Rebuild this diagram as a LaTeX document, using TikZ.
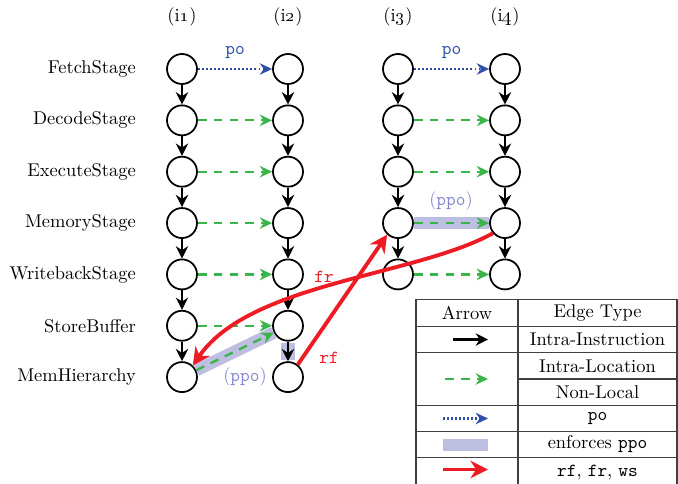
\documentclass[tikz,border=0pt]{standalone}
\usepackage{xcolor}
\definecolor{poblue}{RGB}{47,79,170}
\definecolor{locgreen}{RGB}{57,181,74}
\definecolor{comred}{RGB}{237,28,36}
\definecolor{ppoband}{RGB}{190,190,224}
\definecolor{ppotext}{RGB}{135,135,205}
\usetikzlibrary{arrows.meta}

\begin{document}
\begin{tikzpicture}[
  font=\fontsize{10.5}{12}\selectfont,
  uop/.style={draw,circle,line width=1pt,minimum size=0.6cm,inner sep=0pt},
  stagelbl/.style={anchor=east},
  intra/.style={-{Stealth[length=7pt,width=7pt]},line width=1.5pt},
  loc/.style={-{Stealth[length=7pt,width=6.5pt]},locgreen,line width=1.3pt,dash pattern=on 5pt off 4pt},
  pord/.style={-{Stealth[length=7pt,width=6.5pt]},poblue,line width=1.3pt,dash pattern=on 1.1pt off 1.2pt},
  com/.style={-{Stealth[length=10pt,width=10pt]},comred,line width=2.2pt},
  ppohl/.style={ppoband,line width=7pt},
  cell/.style={draw=black!75,line width=0.6pt,minimum height=0.526cm,inner sep=0pt}
]
  \useasboundingbox (0,0) rectangle (13.56,-9.66);

  % instruction columns
  \foreach \c/\x/\last in {1/3.64/7,2/5.76/7,3/7.96/5,4/10.10/5} {
    \node (hd\c) at (\x,-0.34) {(i\oldstylenums{\c})};
    \foreach \r in {1,...,\last}
      \node[uop] (i\c-\r) at (\x,{-1.38-1.027*(\r-1)}) {};
  }
  \foreach \r/\t in {1/FetchStage,2/DecodeStage,3/ExecuteStage,4/MemoryStage,
                     5/WritebackStage,6/StoreBuffer,7/MemHierarchy}
    \node[stagelbl] (lbl\r) at (2.84,{-1.38-1.027*(\r-1)}) {\t};

  % ppo highlights
  \draw[ppohl] (i1-7) -- (i2-6);
  \draw[ppohl] (i3-4) -- (i4-4);
  \fill[ppoband] ([xshift=-0.14cm,yshift=-0.02cm]i2-6.south) rectangle ([xshift=0.14cm,yshift=-0.36cm]i2-6.south);

  % intra-instruction
  \foreach \c/\last in {1/6,2/6,3/4,4/4}
    \foreach \r [count=\nxt from 2] in {1,...,\last}
      \draw[intra] (i\c-\r) -- (i\c-\nxt);

  % po and locations
  \draw[pord] (i1-1) -- node[above=2pt,text=poblue] (po12) {\texttt{po}} (i2-1);
  \draw[pord] (i3-1) -- node[above=2pt,text=poblue] (po34) {\texttt{po}} (i4-1);
  \foreach \r in {2,...,6}
    \draw[loc] (i1-\r) -- (i2-\r);
  \draw[loc] (i1-7) -- (i2-6);
  \foreach \r in {2,...,5}
    \draw[loc] (i3-\r) -- (i4-\r);
  \node[text=ppotext] (ppo12) at (4.9,-7.54) {(\texttt{ppo})};
  \node[text=ppotext] (ppo34) at (9.02,-4.02) {(\texttt{ppo})};

  % communication
  \draw[com] (i2-7.52) -- (i3-4.227);
  \draw[com] (i4-4.220) .. controls +(-1.56,-0.86) and +(1.14,1.66) .. (i1-7.47);
  \node[text=comred] (frlbl) at (6.48,-5.54) {\texttt{fr}};
  \node[text=comred] (rflbl) at (6.58,-7.16) {\texttt{rf}};

  % legend
  \node[cell,minimum width=2.04cm] (lgarrow) at (9.34,-6.26) {Arrow};
  \node[cell,minimum width=3.18cm] (lgtype) at (11.95,-6.26) {Edge Type};
  \node[cell,minimum width=2.04cm] (lgintra) at (9.34,-6.79) {};
  \node[cell,minimum width=3.18cm] (lgintrat) at (11.95,-6.79) {Intra-Instruction};
  \node[cell,minimum width=2.04cm,minimum height=1.052cm] (lgloc) at (9.34,-7.58) {};
  \node[cell,minimum width=3.18cm] (lgloct) at (11.95,-7.32) {Intra-Location};
  \node[cell,minimum width=3.18cm] (lgnlt) at (11.95,-7.84) {Non-Local};
  \node[cell,minimum width=2.04cm] (lgpo) at (9.34,-8.37) {};
  \node[cell,minimum width=3.18cm] (lgpot) at (11.95,-8.37) {\texttt{po}};
  \node[cell,minimum width=2.04cm] (lgppo) at (9.34,-8.89) {};
  \node[cell,minimum width=3.18cm] (lgppot) at (11.95,-8.89) {enforces \texttt{ppo}};
  \node[cell,minimum width=2.04cm,minimum height=0.6cm] (lgcom) at (9.34,-9.45) {};
  \node[cell,minimum width=3.18cm,minimum height=0.6cm] (lgcomt) at (11.95,-9.45) {\texttt{rf}, \texttt{fr}, \texttt{ws}};

  \draw[intra] ([xshift=-0.28cm]lgintra.center) -- ([xshift=0.42cm]lgintra.center);
  \draw[loc] ([xshift=-0.44cm]lgloc.center) -- ([xshift=0.42cm]lgloc.center);
  \draw[pord] ([xshift=-0.48cm]lgpo.center) -- ([xshift=0.42cm]lgpo.center);
  \fill[ppoband] ([xshift=-0.48cm,yshift=-0.12cm]lgppo.center) rectangle ([xshift=0.42cm,yshift=0.12cm]lgppo.center);
  \draw[com] ([xshift=-0.48cm,yshift=0.06cm]lgcom.center) -- ([xshift=0.42cm,yshift=0.06cm]lgcom.center);
\end{tikzpicture}
\end{document}
